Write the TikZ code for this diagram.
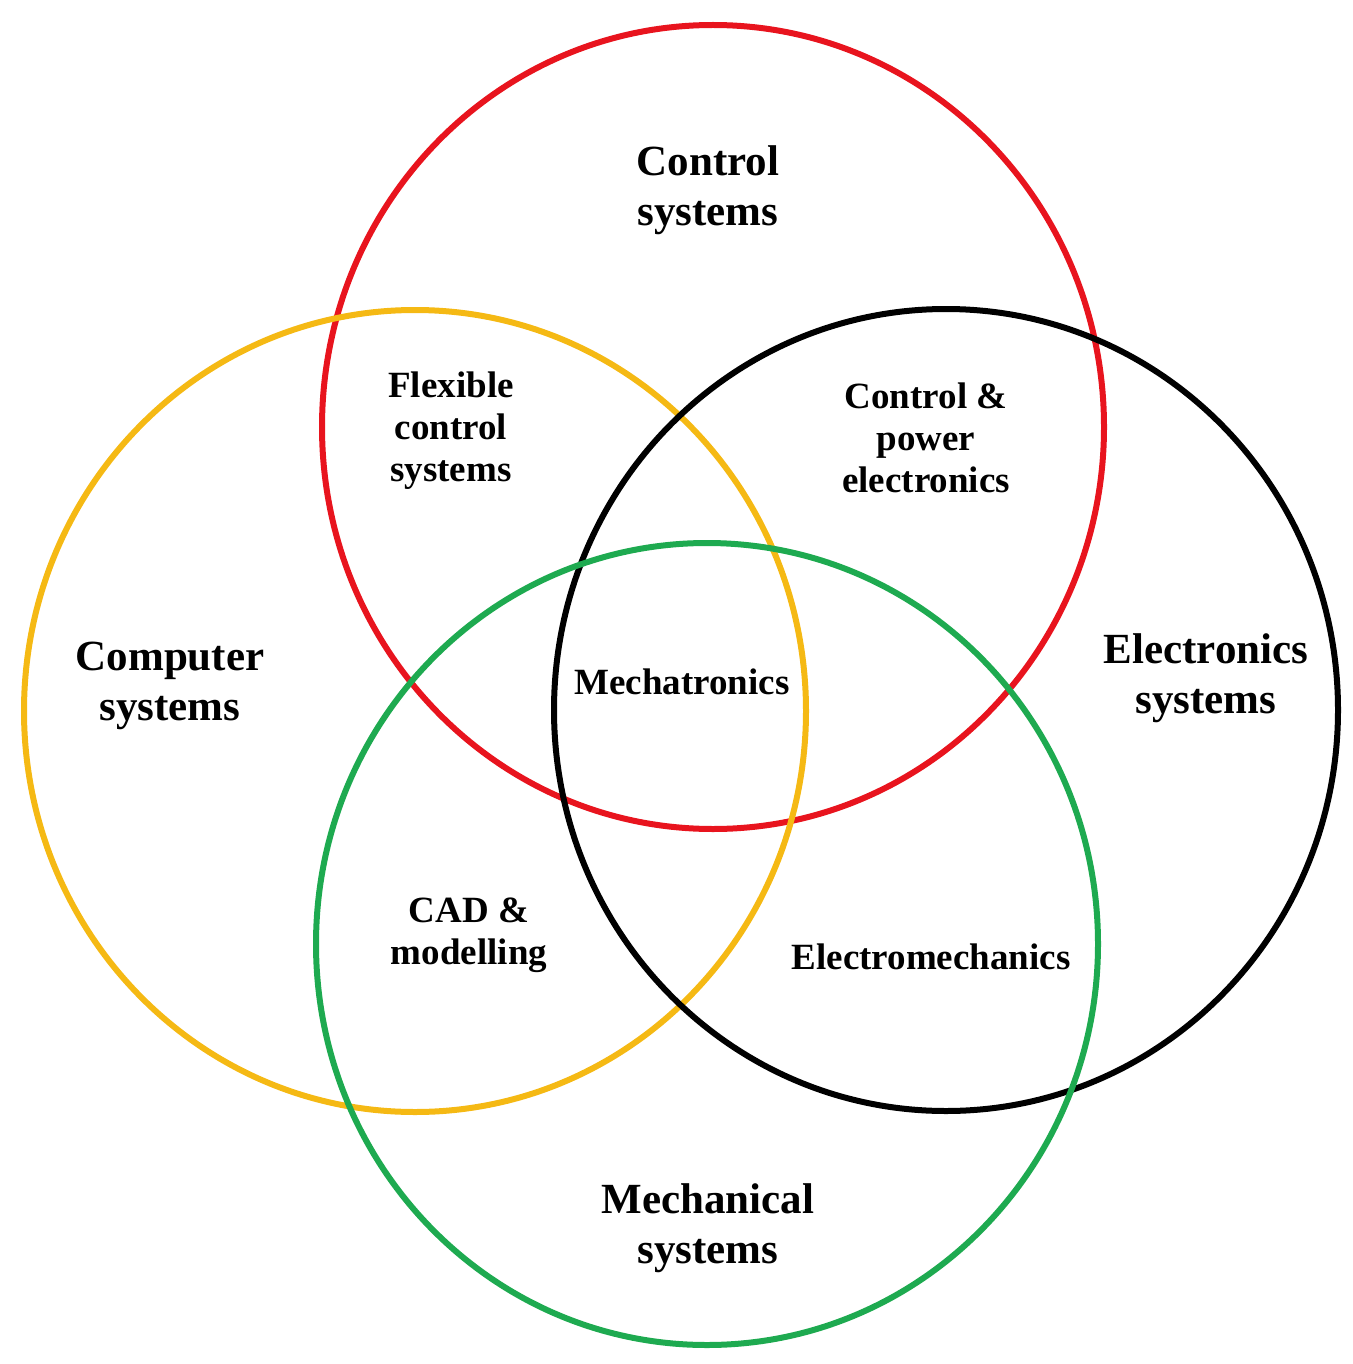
\documentclass[tikz,border=0pt]{standalone}
\usepackage{fontspec}
\setmainfont{Liberation Serif}
\begin{document}
\begin{tikzpicture}[x=1pt,y=-1pt,
  ring/.style={line width=6pt},
  big/.style={align=center,font=\fontsize{43}{50}\selectfont\bfseries},
  small/.style={align=center,font=\fontsize{37}{42}\selectfont\bfseries}]
\useasboundingbox (0,0) rectangle (1352,1364);
\definecolor{cred}{RGB}{232,20,30}
\definecolor{cyel}{RGB}{245,185,20}
\definecolor{cgrn}{RGB}{30,170,80}
\draw[ring,cred] (713,427) ellipse [x radius=391, y radius=402] coordinate (red);
\draw[ring,cyel] (415,711) ellipse [x radius=391, y radius=401] coordinate (yel);
\draw[ring,black] (946,710) ellipse [x radius=392, y radius=401] coordinate (blk);
\draw[ring,cgrn] (707,944) ellipse [x radius=391, y radius=401] coordinate (grn);
\node[big] (ctl) at (708,190) {Control\\systems};
\node[big] (cmp) at (170,686) {Computer\\systems};
\node[big] (ele) at (1206,678) {Electronics\\systems};
\node[big] (mec) at (708,1228) {Mechanical\\systems};
\node[small] (flx) at (451,431) {Flexible\\control\\systems};
\node[small] (cpe) at (926,438) {Control \&\\power\\electronics};
\node[small] (mtr) at (682,682) {Mechatronics};
\node[small] (cad) at (469,935) {CAD \&\\modelling};
\node[small] (emc) at (931,957) {Electromechanics};
\end{tikzpicture}
\end{document}
